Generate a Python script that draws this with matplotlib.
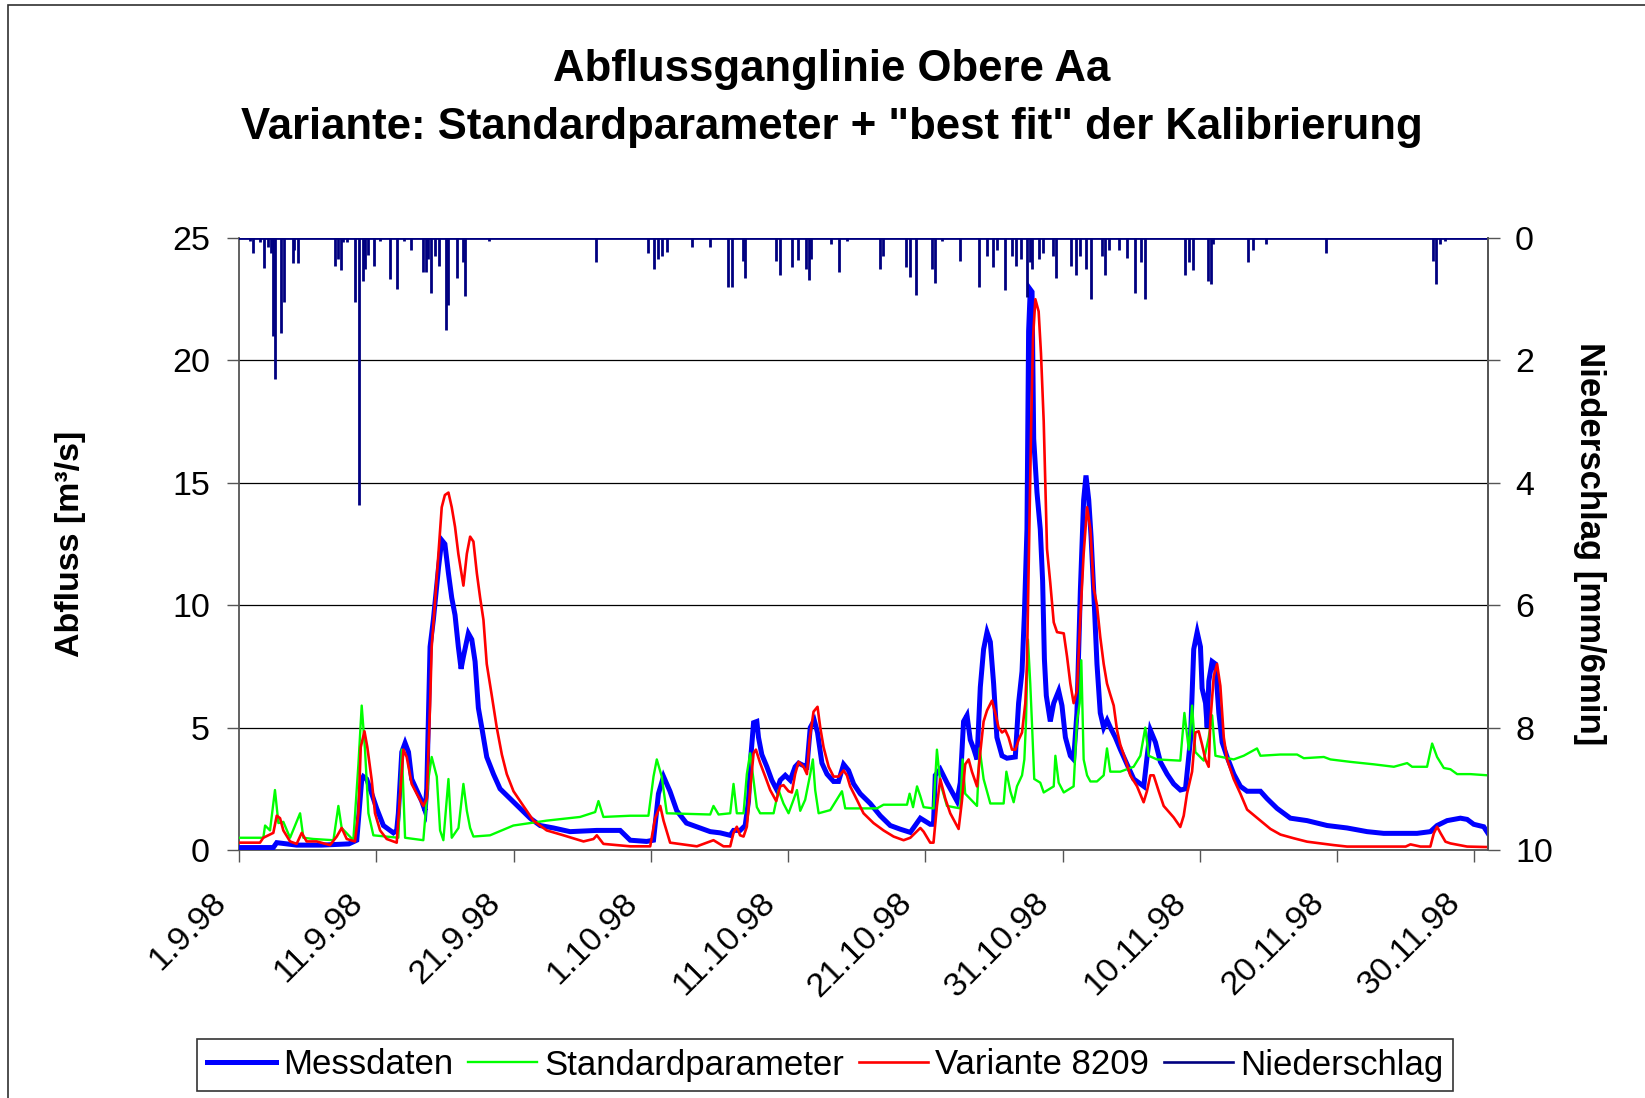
import matplotlib
matplotlib.use("Agg")
import matplotlib.pyplot as plt
from matplotlib.patches import Rectangle
from matplotlib.lines import Line2D
from matplotlib.transforms import ScaledTranslation

plt.rcParams['font.family'] = ['Liberation Sans', 'DejaVu Sans']

# ---- data (days since 1.9.98) ----
mess_t = [0.0, 2.5, 2.75, 3.5, 4.2, 6.0, 8.0, 8.58, 8.94, 9.06, 9.3, 9.55, 10.03, 10.52, 11.25, 11.49,
          11.61, 11.86, 12.1, 12.35, 12.58, 13.31, 13.56, 13.68, 13.8, 13.92, 14.16, 14.3, 14.53, 14.77,
          15.0, 15.26, 15.5, 15.74, 15.98, 16.18, 16.35, 16.71, 16.96, 17.2, 17.44, 17.69, 18.05, 18.54,
          19.02, 19.75, 20.48, 21.21, 21.94, 22.91, 24.12, 26.07, 27.77, 28.5, 29.7, 30.2, 30.56, 30.93,
          31.4, 31.9, 32.6, 33.6, 34.33, 35.06, 35.79, 36.03, 36.51, 36.88, 37.12, 37.29, 37.49, 37.73,
          37.85, 38.09, 38.46, 38.82, 39.19, 39.43, 39.8, 40.16, 40.52, 40.77, 41.13, 41.38, 41.62, 41.91,
          42.15, 42.47, 42.84, 43.32, 43.68, 44.05, 44.41, 44.78, 45.26, 45.99, 46.72, 47.45, 48.18, 48.91,
          49.64, 50.36, 50.6, 50.73, 51.09, 51.58, 52.31, 52.55, 52.79, 53.04, 53.28, 53.52, 53.77, 54.01,
          54.25, 54.5, 54.74, 54.98, 55.22, 55.59, 55.95, 56.56, 56.8, 57.05, 57.22, 57.41, 57.53, 57.65,
          57.78, 57.9, 58.14, 58.38, 58.55, 58.68, 58.82, 59.11, 59.36, 59.72, 59.96, 60.21, 60.57, 60.81,
          61.05, 61.3, 61.54, 61.71, 61.91, 62.08, 62.27, 62.51, 62.75, 63.0, 63.25, 63.49, 63.85, 64.22,
          64.7, 65.19, 65.92, 66.16, 66.4, 66.77, 67.13, 67.62, 68.1, 68.59, 68.96, 69.32, 69.56, 69.81,
          70.05, 70.17, 70.42, 70.54, 70.66, 70.9, 71.14, 71.39, 71.63, 71.99, 72.48, 72.96, 73.45, 74.42,
          74.9, 75.63, 76.6, 77.82, 79.28, 80.73, 82.19, 83.4, 85.83, 86.8, 87.29, 88.02, 88.99, 89.48,
          89.96, 90.69, 91.0]
mess_q = [0.1, 0.1, 0.3, 0.25, 0.2, 0.2, 0.25, 0.4, 2.86, 3.0, 2.9, 2.5, 1.7, 1.0, 0.7, 0.8,
          1.5, 4.0, 4.37, 4.0, 2.9, 2.0, 1.6, 2.5, 5.5, 8.3, 9.4, 10.2, 11.5, 12.66,
          12.5, 11.3, 10.3, 9.6, 8.3, 7.4, 7.9, 8.85, 8.6, 7.7, 5.8, 5.0, 3.8, 3.1,
          2.5, 2.1, 1.7, 1.3, 1.0, 0.9, 0.75, 0.8, 0.8, 0.4, 0.35, 0.4, 2.3, 3.0,
          2.4, 1.6, 1.1, 0.9, 0.75, 0.7, 0.6, 0.8, 0.8, 1.0, 2.0, 3.8, 5.2, 5.25,
          4.6, 3.9, 3.4, 2.85, 2.45, 2.85, 3.05, 2.85, 3.4, 3.55, 3.45, 3.4, 5.0, 5.3,
          4.8, 3.55, 3.1, 2.8, 2.8, 3.5, 3.25, 2.7, 2.3, 1.9, 1.4, 1.0, 0.85, 0.72,
          1.3, 1.05, 1.05, 3.05, 3.3, 2.75, 2.0, 2.75, 5.25, 5.5, 4.5, 4.15, 3.7, 6.65,
          8.2, 8.9, 8.5, 6.8, 4.6, 3.85, 3.75, 3.8, 6.0, 7.3, 9.6, 13.1, 21.2, 22.9,
          22.8, 16.8, 14.6, 13.1, 11.0, 7.8, 6.3, 5.25, 6.0, 6.5, 5.9, 4.6, 3.85, 3.7,
          5.6, 10.6, 14.3, 15.3, 14.3, 12.8, 10.6, 7.6, 5.6, 5.0, 5.3, 5.0, 4.6, 4.1,
          3.5, 2.9, 2.6, 3.8, 4.9, 4.4, 3.6, 3.1, 2.7, 2.45, 2.5, 4.5, 8.2, 8.9,
          8.3, 6.6, 6.0, 5.0, 6.9, 7.7, 7.6, 5.6, 4.4, 3.8, 3.1, 2.6, 2.4, 2.4,
          2.1, 1.7, 1.3, 1.2, 1.0, 0.9, 0.75, 0.68, 0.68, 0.75, 1.0, 1.2, 1.3, 1.25,
          1.05, 0.95, 0.68]

std_t = [0.0, 1.77, 1.9, 2.26, 2.62, 2.87, 3.23, 3.72, 4.45, 4.69, 5.42, 6.88, 7.24, 7.48, 8.33, 8.7,
         8.94, 9.18, 9.43, 9.79, 11.61, 11.86, 12.1, 13.43, 13.8, 14.04, 14.41, 14.65, 14.89, 15.26,
         15.5, 15.99, 16.35, 16.6, 16.84, 17.08, 18.29, 19.99, 22.42, 24.85, 25.95, 26.19, 26.55, 28.5,
         29.83, 30.2, 30.44, 30.8, 31.17, 34.33, 34.57, 34.94, 35.79, 36.03, 36.27, 36.76, 37.0, 37.24,
         37.49, 37.73, 37.97, 38.95, 39.31, 39.67, 40.04, 40.4, 40.65, 40.89, 41.25, 41.62, 41.81, 41.98,
         42.23, 43.08, 43.93, 44.17, 46.48, 46.96, 48.67, 48.86, 49.11, 49.4, 49.64, 49.88, 50.6, 50.85,
         51.09, 51.58, 52.55, 52.72, 52.91, 53.77, 53.96, 54.25, 54.74, 55.71, 55.91, 56.2, 56.44, 56.68,
         57.05, 57.22, 57.34, 57.48, 57.65, 57.78, 57.94, 58.38, 58.63, 59.36, 59.48, 59.72, 60.09, 60.81,
         61.05, 61.25, 61.37, 61.54, 61.79, 62.03, 62.51, 63.0, 63.24, 63.48, 64.21, 65.18, 65.67, 66.03,
         66.28, 66.88, 68.58, 68.88, 69.2, 69.44, 69.68, 70.29, 70.65, 70.9, 71.14, 72.47, 73.2, 74.17,
         74.42, 75.87, 77.09, 77.58, 79.04, 79.52, 80.98, 82.68, 84.14, 85.11, 85.47, 86.56, 86.93, 87.29,
         87.78, 88.26, 88.75, 89.72, 91.0]
std_q = [0.5, 0.5, 1.0, 0.8, 2.45, 1.1, 1.15, 0.5, 1.5, 0.5, 0.45, 0.4, 1.8, 0.9, 0.4, 3.5,
         5.9, 4.1, 1.5, 0.6, 0.5, 4.1, 0.5, 0.4, 2.9, 3.8, 3.0, 0.8, 0.4, 2.9,
         0.5, 0.9, 2.7, 1.6, 0.9, 0.55, 0.6, 1.0, 1.2, 1.35, 1.55, 2.0, 1.35, 1.4,
         1.4, 3.0, 3.7, 3.0, 1.5, 1.45, 1.8, 1.45, 1.5, 2.7, 1.5, 1.5, 3.1, 3.95,
         2.85, 1.75, 1.5, 1.5, 2.45, 1.9, 1.5, 2.05, 2.45, 1.6, 2.05, 3.1, 3.7, 2.45,
         1.5, 1.63, 2.4, 1.7, 1.7, 1.85, 1.85, 2.3, 1.75, 2.6, 2.2, 1.75, 1.7, 4.1,
         2.75, 1.8, 1.7, 3.7, 2.3, 1.8, 4.15, 2.9, 1.9, 1.9, 3.2, 2.4, 1.95, 2.6,
         3.05, 3.7, 5.25, 8.6, 6.8, 5.1, 2.9, 2.75, 2.35, 2.6, 3.85, 2.75, 2.35, 2.6,
         5.25, 6.0, 7.75, 3.7, 3.05, 2.8, 2.8, 3.05, 4.15, 3.2, 3.2, 3.4, 3.85, 5.0,
         3.85, 3.7, 3.65, 5.6, 4.1, 5.9, 4.0, 3.65, 4.6, 5.5, 3.85, 3.7, 3.85, 4.15,
         3.85, 3.9, 3.9, 3.75, 3.8, 3.7, 3.6, 3.5, 3.4, 3.55, 3.4, 3.4, 4.35, 3.8,
         3.35, 3.3, 3.1, 3.1, 3.05]

var_t = [0.0, 1.53, 1.77, 2.5, 2.75, 2.99, 3.23, 3.72, 4.2, 4.57, 4.93, 5.66, 6.63, 7.12, 7.48, 7.85,
         8.45, 8.7, 8.87, 9.14, 9.35, 9.67, 9.91, 10.28, 10.76, 11.49, 11.73, 11.98, 12.22, 12.58,
         12.95, 13.43, 13.68, 13.92, 14.04, 14.29, 14.53, 14.77, 15.0, 15.26, 15.5, 15.74, 15.98, 16.35,
         16.6, 16.84, 17.08, 17.33, 17.57, 17.81, 18.05, 18.42, 18.78, 19.15, 19.51, 20.0, 20.72, 21.45,
         22.42, 23.64, 25.1, 25.83, 26.07, 26.55, 28.5, 29.96, 30.32, 30.69, 30.93, 31.41, 33.36, 34.57,
         35.3, 35.79, 36.03, 36.27, 36.51, 36.76, 37.0, 37.24, 37.49, 37.66, 37.97, 38.34, 38.7, 39.14,
         39.43, 39.67, 40.04, 40.28, 40.52, 40.77, 41.13, 41.38, 41.57, 41.86, 42.15, 42.35, 42.59, 42.96,
         43.32, 43.68, 44.05, 44.29, 44.53, 45.02, 45.5, 46.23, 46.96, 47.69, 48.42, 48.91, 49.64, 49.88,
         50.36, 50.6, 50.85, 51.09, 51.46, 51.82, 52.43, 52.67, 52.91, 53.16, 53.4, 53.77, 54.01, 54.25,
         54.5, 54.86, 55.1, 55.34, 55.59, 55.83, 56.07, 56.32, 56.56, 56.8, 57.05, 57.29, 57.41, 57.58,
         57.73, 57.85, 58.02, 58.26, 58.43, 58.63, 58.87, 59.11, 59.36, 59.6, 60.09, 60.33, 60.57, 60.81,
         61.05, 61.3, 61.54, 61.79, 62.03, 62.27, 62.51, 62.75, 63.0, 63.24, 63.48, 63.73, 63.97, 64.21,
         64.58, 64.94, 65.43, 65.91, 66.15, 66.4, 66.64, 67.01, 67.37, 68.1, 68.58, 68.83, 69.07, 69.44,
         69.68, 69.92, 70.17, 70.41, 70.65, 70.77, 71.02, 71.26, 71.5, 71.75, 71.99, 72.47, 72.96, 73.45,
         74.42, 75.15, 75.88, 76.84, 77.82, 78.8, 79.76, 80.73, 85.0, 85.35, 86.08, 86.8, 87.05, 87.29,
         87.53, 87.9, 88.26, 89.48, 91.0]
var_q = [0.3, 0.3, 0.5, 0.7, 1.4, 1.3, 0.8, 0.35, 0.25, 0.7, 0.35, 0.35, 0.2, 0.55, 0.9, 0.45,
         0.35, 1.5, 4.2, 4.85, 4.2, 2.85, 1.5, 0.8, 0.45, 0.3, 2.2, 4.1, 3.8, 2.7,
         2.3, 1.8, 2.1, 5.9, 8.3, 10.2, 12.1, 14.0, 14.5, 14.6, 14.0, 13.2, 12.1, 10.8,
         12.1, 12.8, 12.6, 11.3, 10.3, 9.4, 7.6, 6.3, 5.0, 3.9, 3.1, 2.4, 1.8, 1.2,
         0.8, 0.6, 0.35, 0.45, 0.6, 0.25, 0.15, 0.15, 1.3, 1.8, 1.2, 0.3, 0.15, 0.4,
         0.15, 0.15, 0.7, 0.95, 0.6, 0.55, 0.95, 2.45, 3.95, 4.1, 3.55, 3.0, 2.45, 2.0,
         2.6, 2.65, 2.4, 2.35, 3.1, 3.6, 3.4, 3.1, 4.5, 5.65, 5.85, 5.0, 4.2, 3.4,
         3.0, 3.0, 3.25, 3.05, 2.6, 2.05, 1.5, 1.1, 0.8, 0.55, 0.4, 0.5, 0.9, 0.75,
         0.3, 0.3, 1.8, 2.9, 2.1, 1.5, 0.86, 2.0, 3.5, 3.7, 3.2, 2.6, 4.0, 5.25,
         5.7, 6.1, 5.6, 5.0, 4.8, 4.9, 4.6, 4.1, 4.1, 4.5, 4.8, 6.0, 7.6, 13.1,
         17.8, 20.9, 22.5, 22.0, 20.3, 17.5, 12.3, 10.9, 9.3, 8.9, 8.85, 7.9, 6.8, 6.0,
         6.5, 9.5, 12.1, 14.0, 13.1, 10.7, 10.0, 8.7, 7.6, 6.8, 6.35, 5.9, 4.9, 4.3,
         3.7, 3.05, 2.6, 1.95, 2.4, 3.05, 3.05, 2.4, 1.8, 1.33, 0.94, 1.4, 2.3, 3.2,
         4.8, 4.85, 4.3, 3.7, 3.4, 5.25, 7.1, 7.6, 6.7, 4.6, 3.7, 2.9, 2.3, 1.65,
         1.2, 0.86, 0.63, 0.48, 0.34, 0.27, 0.2, 0.14, 0.14, 0.23, 0.14, 0.14, 0.68, 0.95,
         0.7, 0.34, 0.27, 0.14, 0.12]

rain_t = [0.8, 1.0, 1.5, 1.8, 2.1, 2.3, 2.5, 2.6, 3.06, 3.3, 3.9, 4.0, 4.3, 7.0, 7.2, 7.4, 7.6, 7.9,
          8.45, 8.75, 9.0, 9.2, 9.4, 9.8, 10.3, 11.0, 11.5, 12.0, 12.5, 13.4, 13.6, 13.8, 14.0, 14.3,
          14.6, 15.1, 15.2, 15.9, 16.3, 16.5, 18.2, 26.0, 29.8, 30.2, 30.5, 30.8, 31.2, 33.0, 34.3, 35.6,
          35.9, 36.7, 36.9, 39.1, 39.4, 40.3, 40.7, 41.3, 41.5, 41.7, 43.1, 43.7, 44.3, 46.7, 46.9, 48.6,
          48.9, 49.3, 50.5, 50.7, 51.2, 52.5, 53.9, 54.5, 54.9, 55.2, 55.8, 56.3, 56.6, 57.0, 57.4, 57.6,
          57.8, 58.3, 58.6, 59.3, 59.5, 60.6, 61.0, 61.3, 61.7, 62.1, 62.9, 63.1, 63.4, 64.1, 64.7, 65.3,
          65.7, 66.0, 68.9, 69.2, 69.5, 70.6, 70.8, 71.0, 73.5, 73.9, 74.8, 79.2, 87.0, 87.2, 87.5, 87.9]
rain_mm = [0.05, 0.25, 0.06, 0.49, 0.15, 0.25, 1.6, 2.3, 1.56, 1.04, 0.41, 0.2, 0.41, 0.45, 0.35, 0.52, 0.06, 0.06,
           1.04, 4.36, 0.7, 0.5, 0.27, 0.45, 0.05, 0.67, 0.84, 0.05, 0.2, 0.55, 0.55, 0.35, 0.9, 0.3,
           0.45, 1.5, 1.1, 0.66, 0.4, 0.95, 0.05, 0.4, 0.25, 0.5, 0.35, 0.3, 0.23, 0.15, 0.15, 0.8,
           0.8, 0.37, 0.65, 0.37, 0.6, 0.47, 0.36, 0.5, 0.68, 0.35, 0.1, 0.55, 0.05, 0.5, 0.3, 0.47,
           0.64, 0.93, 0.5, 0.74, 0.05, 0.37, 0.8, 0.3, 0.47, 0.2, 0.85, 0.3, 0.45, 0.35, 0.96, 0.4,
           0.5, 0.35, 0.25, 0.3, 0.65, 0.45, 0.6, 0.3, 0.5, 1.0, 0.3, 0.6, 0.2, 0.2, 0.33, 0.9,
           0.4, 1.0, 0.6, 0.4, 0.53, 0.7, 0.75, 0.1, 0.39, 0.2, 0.1, 0.25, 0.37, 0.75, 0.1, 0.05]

x_ticks = [0, 10, 20, 30, 40, 50, 60, 70, 80, 90]
x_labels = ["1.9.98", "11.9.98", "21.9.98", "1.10.98", "11.10.98", "21.10.98",
            "31.10.98", "10.11.98", "20.11.98", "30.11.98"]
q_ticks = [0, 5, 10, 15, 20, 25]
p_ticks = [0, 2, 4, 6, 8, 10]

# ---- figure ----
W, H = 1645, 1098
fig = plt.figure(figsize=(W / 100, H / 100), dpi=100)
fig.patches.append(Rectangle((8 / W, -0.05), 1.2, 1.05 - 5 / H, transform=fig.transFigure,
                             fill=False, edgecolor='#303030', lw=1.2))

ax = fig.add_axes([239 / W, (H - 850) / H, (1488 - 239) / W, (850 - 238) / H])
ax.set_xlim(0, 91)
ax.set_ylim(0, 25)
ax.set_axisbelow(True)

c_blue, c_green, c_red, c_navy = '#0000FF', '#00FF00', '#FF0000', '#000080'
ax.plot(mess_t, mess_q, color=c_blue, lw=3.6, solid_joinstyle='miter', zorder=3)
ax.plot(std_t, std_q, color=c_green, lw=1.7, zorder=4)
ax.plot(var_t, var_q, color=c_red, lw=1.9, zorder=5)

ax.set_yticks(q_ticks)
ax.yaxis.grid(True, color='black', lw=0.9)
ax.set_xticks(x_ticks)
ax.set_xticklabels(x_labels, rotation=45, ha='right', va='top', rotation_mode='anchor')
ax.spines['top'].set_visible(False)
for s in ['left', 'bottom', 'right']:
    ax.spines[s].set_color('#555555')
    ax.spines[s].set_linewidth(1.3)
ax.tick_params(axis='both', direction='out', length=8.5, width=1.0, color='#555555',
               labelsize=24.5, pad=12.5)
ax.tick_params(axis='x', pad=14)
ax.set_ylabel('Abfluss [m³/s]', fontsize=24.5, fontweight='bold', labelpad=62)

ax2 = ax.twinx()
ax2.set_ylim(10, 0)
ax2.set_xlim(0, 91)
ax2.plot([0, 91], [0, 0], color=c_navy, lw=2.0, zorder=2)
ax2.vlines(rain_t, 0, rain_mm, color=c_navy, lw=2.0)
ax2.set_yticks(p_ticks)
for s in ['top', 'left', 'bottom']:
    ax2.spines[s].set_visible(False)
ax2.spines['right'].set_color('#555555')
ax2.spines['right'].set_linewidth(1.3)
ax2.tick_params(axis='y', direction='out', length=8.5, width=1.0, color='#555555',
                labelsize=24.5, pad=11)
ax2.set_ylabel('Niederschlag [mm/6min]', fontsize=25, fontweight='bold',
               rotation=270, labelpad=38)

# shift the rotated date labels (applied after tick_params so it is kept)
shift = ScaledTranslation(-29 / 100, -6 / 100, fig.dpi_scale_trans)
for lab in ax.get_xticklabels():
    lab.set_transform(lab.get_transform() + shift)

fig.text(832 / W, 1 - 69 / H, 'Abflussganglinie Obere Aa', fontsize=31.5, fontweight='bold',
         ha='center', va='center')
fig.text(832 / W, 1 - 127 / H, 'Variante: Standardparameter + "best fit" der Kalibrierung',
         fontsize=31.5, fontweight='bold', ha='center', va='center')

handles = [Line2D([], [], color=c_blue, lw=3.6), Line2D([], [], color=c_green, lw=1.7),
           Line2D([], [], color=c_red, lw=1.9), Line2D([], [], color=c_navy, lw=1.9)]
labels = ['Messdaten', 'Standardparameter', 'Variante 8209', 'Niederschlag']
leg = fig.legend(handles, labels, loc='center', bbox_to_anchor=(825 / W, 1 - 1065 / H),
                 ncol=4, fontsize=25, frameon=True, fancybox=False, shadow=False,
                 handlelength=2.0, handletextpad=0.2, columnspacing=0.42, borderpad=0.28)
leg.get_frame().set_edgecolor('black')
leg.get_frame().set_linewidth(1.2)

fig.savefig('out.png', dpi=100)
